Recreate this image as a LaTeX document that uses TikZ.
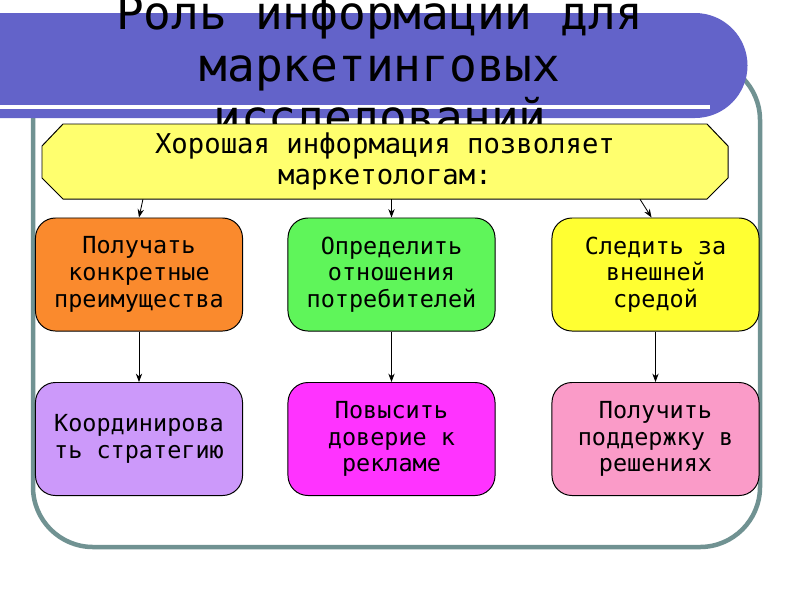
\documentclass[tikz,border=0pt]{standalone}
\usepackage{fontspec}
\setmainfont{DejaVu Sans}
\setmonofont{DejaVu Sans Mono}
\usetikzlibrary{arrows.meta}
\definecolor{banner}{RGB}{99,99,201}
\definecolor{framegray}{RGB}{112,146,146}
\definecolor{hexyellow}{RGB}{255,255,110}
\definecolor{orangebox}{RGB}{250,138,45}
\definecolor{greenbox}{RGB}{95,245,90}
\definecolor{yellowbox}{RGB}{255,255,50}
\definecolor{purplebox}{RGB}{204,153,250}
\definecolor{magentabox}{RGB}{255,51,255}
\definecolor{pinkbox}{RGB}{250,155,200}

\begin{document}
\begin{tikzpicture}[x=0.025cm, y=-0.025cm,
  box/.style={draw, line width=0.7pt, rounded corners=0.5cm, minimum width=5.175cm, minimum height=2.825cm, inner sep=0pt, align=center, font=\ttfamily\fontsize{16.7}{19}\selectfont},
  arr/.style={-{Stealth[length=6pt, width=4.5pt]}, line width=0.6pt}]
\useasboundingbox (0,0) rectangle (800,600);
\clip (0,0) rectangle (800,600);
\fill[white] (0,0) rectangle (800,600);
\draw[framegray, line width=3.2pt, rounded corners=1.5cm] (33,60) rectangle (760,547);
\fill[banner] (0,13) -- (695,13) arc[start angle=-90, end angle=90, radius=52.5] -- (0,118) -- cycle;
\fill[white] (0,105) rectangle (710,108.5);
\node[inner sep=0pt, align=center, font=\ttfamily\fontsize{32.8}{37}\selectfont] (t) at (380,67) {Роль информации для\\маркетинговых\\исследований};
\filldraw[fill=hexyellow, line width=0.7pt] (63,124) -- (707,124) -- (728,146) -- (728,178) -- (707,199) -- (63,199) -- (42,178) -- (42,146) -- cycle;
\node[minimum width=17.15cm, minimum height=1.875cm, inner sep=0pt, align=center, font=\ttfamily\fontsize{19.4}{22}\selectfont] (h) at (385,161.5) {Хорошая информация позволяет\\маркетологам:};
\node[box, fill=orangebox] (a1) at (139,274.5) {Получать\\конкретные\\преимущества};
\node[box, fill=greenbox] (b1) at (391.5,274.5) {Определить\\отношения\\потребителей};
\node[box, fill=yellowbox] (c1) at (655.5,274.5) {Следить за\\внешней\\средой};
\node[box, fill=purplebox] (a2) at (139,439) {Координирова\\ть стратегию};
\node[box, fill=magentabox] (b2) at (391.5,439) {Повысить\\доверие к\\рекламе};
\node[box, fill=pinkbox] (c2) at (655.5,439) {Получить\\поддержку в\\решениях};
\draw[arr] ([xshift=-6.05cm]h.south) -- (a1.north);
\draw[arr] (h.south -| b1.north) -- (b1.north);
\draw[arr] ([xshift=6.375cm]h.south) -- ([xshift=-0.1cm]c1.north);
\draw[arr] (a1) -- (a2);
\draw[arr] (b1) -- (b2);
\draw[arr] (c1) -- (c2);
\end{tikzpicture}
\end{document}
